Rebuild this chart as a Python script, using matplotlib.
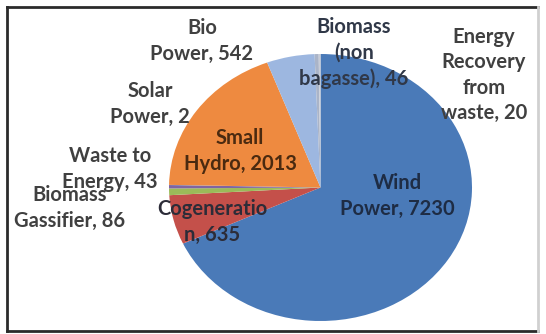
import matplotlib
matplotlib.use('Agg')
import matplotlib.pyplot as plt
from matplotlib.lines import Line2D

# slices, clockwise from 12 o'clock
sources = ['Wind Power', 'Cogeneration', 'Biomass Gassifier', 'Waste to Energy',
           'Solar Power', 'Small Hydro', 'Bio Power', 'Biomass (non bagasse)',
           'Energy Recovery from waste']
capacity = [7230, 635, 86, 43, 2, 2013, 542, 46, 20]
colors = ['#4a7ab8', '#c4504a', '#9bbb59', '#8064a2', '#4bacc6',
          '#ee8a40', '#9db7e0', '#aab4c8', '#c8ccd6']

# label text as it wraps in the original
label_text = ['Wind\nPower, 7230', 'Cogeneratio\nn, 635', 'Biomass\nGassifier, 86',
              'Waste to\nEnergy, 43', 'Solar\nPower, 2', 'Small\nHydro, 2013',
              'Bio\nPower, 542', 'Biomass\n(non\nbagasse), 46',
              'Energy\nRecovery\nfrom\nwaste, 20']
# label centres in pixels (x from left, y from top)
label_xy = [(397, 196), (212, 222), (70, 208), (110, 169), (150, 104),
            (240, 151), (202, 41), (354, 53), (484, 75)]
label_color = ['#1e2c44', '#2c2c38', '#404040', '#404040', '#404040',
               '#4a2a10', '#404040', '#303848', '#404040']

W, H = 546, 334
fig = plt.figure(figsize=(W / 100, H / 100), dpi=100)
fig.patch.set_facecolor('white')

ax = fig.add_axes([169 / W, (H - 321) / H, 303 / W, 267 / H])
ax.pie(capacity, colors=colors, startangle=90, counterclock=False,
       radius=1, center=(0, 0.05), wedgeprops=dict(linewidth=0))
ax.set_aspect('auto')
ax.set_xlim(-1, 1)
ax.set_ylim(-0.95, 1.05)
ax.axis('off')

for txt, (x, y), c in zip(label_text, label_xy, label_color):
    fig.text(x / W, 1 - y / H, txt, ha='center', va='center', color=c,
             fontsize=14.5, family='Lato', weight='bold', linespacing=1.35)

# frame: dark on three sides, faint on the right
def px(x, y):
    return x / W, 1 - y / H

for (x0, y0), (x1, y1), col in [((7, 7), (538, 7), '#2b2b2b'),
                                ((7, 7), (7, 331), '#2b2b2b'),
                                ((7, 331), (538, 331), '#2b2b2b'),
                                ((538, 7), (538, 331), '#d0d0d0')]:
    (a, b), (c2, d) = px(x0, y0), px(x1, y1)
    fig.lines.append(Line2D([a, c2], [b, d], transform=fig.transFigure,
                            color=col, linewidth=2))

fig.savefig('out.png', dpi=100)
